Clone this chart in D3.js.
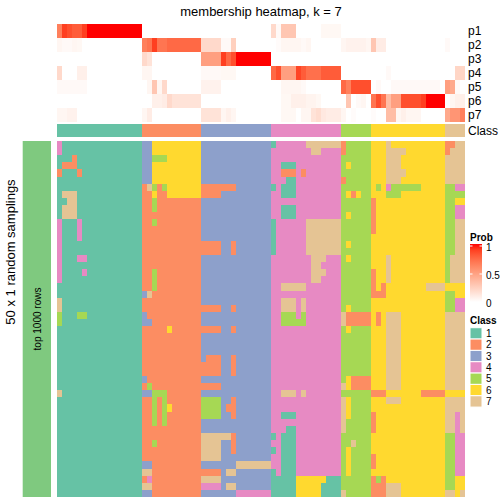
<!DOCTYPE html>
<html><head><meta charset="utf-8">
<script src="https://cdn.jsdelivr.net/npm/d3@7"></script>
<style>
html,body{margin:0;padding:0;background:#fff;}
text{font-family:"Liberation Sans",Arial,Helvetica,sans-serif;}
</style></head>
<body><div id="chart"></div>
<script>
// ---------------- DATA ----------------
const title = "membership heatmap, k = 7";
const classLabels = ["1","2","3","4","5","6","7"];
const classColors = ["#66C2A5","#FC8D62","#8DA0CB","#E78AC3","#A6D854","#FFD92F","#E5C494"];
// class of each of the 82 columns (consensus class annotation)
const columnClass = ("11111111111111111" + "222222222222" + "33333333333333" +
  "44444444444444" + "555555" + "666666666666666" + "7777").split("").map(Number);
const probNames = ["p1","p2","p3","p4","p5","p6","p7"];
const p1 = [0.65,0.9,0.85,0.8,0.8,0.9,1,1,1,1,1,1,1,1,1,1,1,
  0,0,0,0,0,0,0,0,0,0,0,0,
  0,0,0,0,0,0,0,0,0,0,0,0,0,0,
  0.2,0.03,0.3,0.3,0.3,0,0,0,0,0,0.04,0.04,0.04,0.04,
  0,0,0,0,0,0,
  0,0,0,0,0,0,0,0,0,0,0,0,0,0,0,
  0,0,0,0];
const p2 = [0.05,0.03,0.03,0.05,0.04,0,0,0,0,0,0,0,0,0,0,0,0,
  0.65,0.7,0.9,0.7,0.7,0.75,0.75,0.75,0.75,0.75,0.75,0.75,
  0.2,0.2,0.2,0.2,0.03,0.03,0.25,0,0,0,0,0,0,0,
  0,0.02,0.05,0.05,0.05,0.05,0.03,0.05,0,0,0,0,0,0,
  0.05,0.07,0.07,0.07,0.07,0.05,
  0.3,0.1,0.1,0,0,0,0,0,0,0,0,0,0,0,0,
  0.03,0,0,0];
const p3 = [0,0,0,0,0,0,0,0,0,0,0,0,0,0,0,0,0,
  0.2,0.15,0,0,0,0,0,0,0,0,0,0,
  0.5,0.5,0.5,0.5,0.9,0.75,0.85,1,1,1,1,1,1,1,
  0,0,0,0,0,0,0,0,0,0,0,0,0,0,
  0,0,0,0,0,0,
  0,0,0,0,0,0,0,0,0,0,0,0,0,0,0,
  0,0,0,0];
const p4 = [0.2,0,0,0,0.08,0.08,0,0,0,0,0,0,0,0,0,0,0,
  0.05,0.05,0,0,0,0,0,0,0,0,0,0,
  0.03,0.03,0.03,0.03,0.04,0.04,0.04,0,0,0,0,0,0,0,
  0.75,0.85,0.5,0.5,0.5,0.88,0.8,0.72,0.72,0.72,0.8,0.8,0.8,0.8,
  0,0,0,0,0,0,
  0,0,0,0.03,0,0,0,0,0,0,0,0,0,0,0,
  0,0,0.22,0.22];
const p5 = [0.03,0.03,0.03,0.03,0.03,0.03,0,0,0,0,0,0,0,0,0,0,0,
  0,0.05,0.3,0.05,0.2,0,0,0,0,0,0,0,
  0.07,0.07,0.07,0.07,0,0,0,0,0,0,0,0,0,0,
  0,0,0.05,0.05,0.05,0.05,0.03,0,0,0,0,0,0,0,
  0.75,0.65,0.85,0.85,0.85,0.85,
  0,0.03,0,0,0.03,0.03,0.03,0.03,0.03,0.03,0.03,0.03,0.03,0.03,0,
  0.5,0.45,0.03,0];
const p6 = [0,0,0,0,0,0,0,0,0,0,0,0,0,0,0,0,0,
  0,0,0.08,0.08,0.1,0.2,0.15,0.15,0.15,0.15,0.15,0.15,
  0,0,0,0,0,0,0,0,0,0,0,0,0,0,
  0,0,0.04,0.04,0.08,0.08,0.08,0.06,0.06,0.04,0,0,0,0,
  0,0.3,0,0.03,0.05,0,
  0.7,0.85,0.7,0.35,0.5,0.5,0.85,0.85,0.85,0.85,0.9,1,1,1,1,
  0,0.05,0.08,0.08];
const p7 = [0.05,0.05,0.07,0.07,0,0,0,0,0,0,0,0,0,0,0,0,0,
  0.05,0.1,0,0,0,0,0,0,0,0,0,0,
  0.15,0.15,0.15,0.15,0.05,0.08,0.05,0,0,0,0,0,0,0,
  0,0,0.04,0.04,0.04,0,0.05,0.05,0.15,0.18,0.12,0.1,0.1,0.1,
  0.05,0,0.02,0,0,0,
  0.02,0,0,0.35,0.35,0.05,0.08,0.05,0.05,0.05,0,0,0,0,0,
  0.45,0.55,0.55,0.65];
const probRows = [p1,p2,p3,p4,p5,p6,p7];
// class assigned in each of the 50 random samplings (rows) for each column
const samplingRows = [
"41111111111111111 336666666666 33333333333333 14444447777777 255555 666766666666666 2277",
"41111111111111111 336666666666 33333333333333 44444444774444 255555 666777766666666 2777",
"11121111111111111 335556666666 33333333333333 44444444444444 555555 666777666666666 7777",
"12221111111111111 336666666666 33333333333333 44111444444444 565555 666777666666666 7777",
"21112111111111111 336666666666 33333333333333 44222424444444 555555 666777766666666 7777",
"11111111111111111 336666666666 33333333333333 44411444444444 255555 666777666666666 7777",
"11111111111111111 275256666666 22222223333333 14111444444444 555555 656455555566666 5544",
"17771111111111111 226226666666 22223333333333 44111444444444 562655 666555666666666 5555",
"11771111111111111 225222222222 33333333333333 44444444444444 555555 266666666666666 5566",
"17771111111111111 225222222222 33333333333333 44111444444444 555555 266666666666666 5544",
"17771111111111111 222222222222 33333333333333 44111444444444 565555 266666666666666 5544",
"41114111111111111 225222222222 33333333333333 14444447777777 555555 266666666666666 5577",
"41114111111111111 222222222222 33333333333333 14444447777777 555555 266666666666666 5577",
"41114111111111111 222222222222 33333333333333 14444447777777 555555 666666666666666 5577",
"41111111111111111 222222222222 22223323333333 14444447777777 565555 666666666666666 5577",
"41111111111111111 222222222222 22223323333333 14444447777777 555555 666666666666666 5577",
"41114411111111111 222222222222 33333333333333 44444444777444 565555 666766666666666 5777",
"41111111111111111 222222222222 33333333333333 44444444774444 555555 666766666666666 5777",
"41111411111111111 225222222222 33333333333333 44444444777444 555555 266766666666666 5777",
"41111111111111111 225222222222 33333333333333 44444444774444 555555 266766666666666 5777",
"11111111111111111 225222222222 33333333333333 44777774444444 555555 262666666667777 6666",
"11111111111111111 372222222222 33333333333333 44444444444444 555555 222666666666666 5566",
"71111111111111111 222222222222 33333333333333 44777474444444 555555 666666666666666 5544",
"71111111111111111 222222222222 22223323333333 44777474444444 565555 666666666666666 5544",
"51115511111111111 322222222222 33333333333333 44555454444444 722222 626777666666666 7777",
"51111111111111111 332222222222 33333333333333 44555554444444 722222 626777666666666 7777",
"11111111111111111 222226222222 22223323333333 44444444444444 565555 666777666666666 7777",
"11111111111111111 222222222222 33333333333333 44444444444444 555555 666777666666666 7777",
"11111111111111111 222222222222 33333333333333 44444444444444 555555 666777666666666 7777",
"11111111111111111 222222222222 33333333333333 44444444444444 555555 666777666666666 7777",
"11111111111111111 222222222222 32223323333333 44444444444444 555555 666777666666666 7777",
"11111111111111111 222222222222 22223323333333 44444444444444 555555 666777666666666 7777",
"11111111111111111 222222222222 22223323333333 44444444444444 555555 666777666666666 7777",
"11111111111111111 322222222222 33333333333333 44444444444444 562222 666777666666666 7777",
"11111111111111111 252222222222 22223333333333 44444444444444 762222 666777666666666 7777",
"71111111111111111 335552222222 33333333333333 44777474444444 555555 222666666622222 6666",
"11111111111111111 225252222222 55553323333333 44444444444444 765555 666777666666666 7777",
"11111111111111111 225256222222 55553223333333 44444444444444 765555 666666666666666 7777",
"11111111111111111 225252222222 55553323333333 44111444444444 765555 266666666666666 7747",
"11111111111111111 225252222222 33333333333333 44444444444444 755555 266666666666666 7747",
"11111111111111111 222222222222 33333333333333 44411444444444 755555 266666666666666 7747",
"11111111111111111 222222222222 77777723333333 14111444444444 555555 666666666666666 5544",
"11111111111111111 225222222222 77773323333333 44111444444444 557555 666666666666666 5544",
"11111111111111111 222222222222 77773323333333 14111444444444 565555 666666666666666 5544",
"11111111111111111 222222222222 77773333333333 44111444444444 565555 266666666666666 5544",
"11111111111111111 332222222222 33333337777777 44111444444444 565555 266666666666666 5544",
"11111111111111111 772222222222 22223773333333 14111444444444 565555 666666666666666 5544",
"11111111111111111 242222222222 77773333333333 11111666666111 555555 252666666666666 5566",
"11111111111111111 772222222222 44443773333333 11111666661111 555555 222777666666666 5566",
"11111111111111111 332222222222 33333334444444 11111666661111 755555 222777666666666 7767"
];
const probTicks = [0, 0.5, 1];

// ---------------- DRAW ----------------
const W = 504, H = 504;
const svg = d3.select("#chart").append("svg").attr("width", W).attr("height", H);
svg.append("rect").attr("width", W).attr("height", H).attr("fill", "#fff");

const nCol = columnClass.length;
const matrix = samplingRows.map(s => s.replace(/ /g, "").split("").map(Number));
const nRow = matrix.length;

const x = d3.scaleBand().domain(d3.range(nCol)).range([57, 465.4]);
const yMain = d3.scaleBand().domain(d3.range(nRow)).range([141, 497]);
const yTop = d3.scaleBand().domain(probNames).range([24, 122]);
const classColor = d3.scaleOrdinal().domain([1,2,3,4,5,6,7]).range(classColors);
const probColor = d3.scaleLinear().domain([0, 1]).range(["#ffffff", "#ff0000"]).interpolate(d3.interpolateLab);

// widths that overlap the next cell so no seams appear
const cw = j => (j < nCol - 1 ? x.bandwidth() + 1 : x.bandwidth());
const rh = r => (r < nRow - 1 ? yMain.bandwidth() + 1 : yMain.bandwidth());

// title
svg.append("text").attr("x", 261).attr("y", 16).attr("text-anchor", "middle")
  .attr("font-size", 13).text(title);

// probability annotation rows
probRows.forEach((row, i) => {
  svg.append("g").attr("shape-rendering", "crispEdges").selectAll("rect").data(row).join("rect")
    .attr("x", (d, j) => x(j)).attr("y", yTop(probNames[i]))
    .attr("width", (d, j) => cw(j)).attr("height", yTop.bandwidth() + (i < 6 ? 1 : 0))
    .attr("fill", d => probColor(d));
  svg.append("text").attr("x", 468).attr("y", yTop(probNames[i]) + yTop.bandwidth() / 2)
    .attr("dy", "0.35em").attr("font-size", 12).text(probNames[i]);
});

// class annotation row
svg.append("g").attr("shape-rendering", "crispEdges").selectAll("rect").data(columnClass).join("rect")
  .attr("x", (d, j) => x(j)).attr("y", 124)
  .attr("width", (d, j) => cw(j)).attr("height", 13.3)
  .attr("fill", d => classColor(d));
svg.append("text").attr("x", 468).attr("y", 130.7).attr("dy", "0.35em")
  .attr("font-size", 12).text("Class");

// main heatmap
const cells = [];
matrix.forEach((row, r) => row.forEach((v, c) => cells.push({r, c, v})));
svg.append("g").attr("shape-rendering", "crispEdges").selectAll("rect").data(cells).join("rect")
  .attr("x", d => x(d.c)).attr("y", d => yMain(d.r))
  .attr("width", d => cw(d.c)).attr("height", d => rh(d.r))
  .attr("fill", d => classColor(d.v));

// left row-group bar
svg.append("rect").attr("x", 22.7).attr("y", 141).attr("width", 28.3).attr("height", 356)
  .attr("fill", "#7FC97F");
svg.append("text").attr("transform", "translate(41,319) rotate(-90)")
  .attr("text-anchor", "middle").attr("font-size", 10).text("top 1000 rows");
svg.append("text").attr("transform", "translate(15,252) rotate(-90)")
  .attr("text-anchor", "middle").attr("font-size", 13).text("50 x 1 random samplings");

// Prob legend
const lx = 470;
svg.append("text").attr("x", lx).attr("y", 241).attr("font-size", 10)
  .attr("font-weight", "bold").text("Prob");
const grad = svg.append("defs").append("linearGradient").attr("id", "pg")
  .attr("x1", 0).attr("y1", 1).attr("x2", 0).attr("y2", 0);
d3.range(0, 1.0001, 0.1).forEach(t => grad.append("stop")
  .attr("offset", t).attr("stop-color", probColor(t)));
const yLeg = d3.scaleLinear().domain([0, 1]).range([302, 246]);
svg.append("rect").attr("x", lx).attr("y", 244).attr("width", 12).attr("height", 58)
  .attr("fill", "url(#pg)");
probTicks.forEach(t => {
  if (t > 0) {
    svg.append("line").attr("x1", lx).attr("x2", lx + 2.5).attr("y1", yLeg(t)).attr("y2", yLeg(t))
      .attr("stroke", "#fff").attr("stroke-width", 1);
    svg.append("line").attr("x1", lx + 9.5).attr("x2", lx + 12).attr("y1", yLeg(t)).attr("y2", yLeg(t))
      .attr("stroke", "#fff").attr("stroke-width", 1);
  }
  svg.append("text").attr("x", lx + 16).attr("y", yLeg(t) + 1).attr("dy", "0.35em")
    .attr("font-size", 10).text(t);
});

// Class legend
svg.append("text").attr("x", lx).attr("y", 324).attr("font-size", 10)
  .attr("font-weight", "bold").text("Class");
const yCls = d3.scaleBand().domain(classLabels).range([327.7, 327.7 + 11.34 * 7]);
classLabels.forEach((c, i) => {
  svg.append("rect").attr("x", lx).attr("y", yCls(c)).attr("width", 12).attr("height", yCls.bandwidth())
    .attr("fill", classColors[i]).attr("stroke", "#fff").attr("stroke-width", 1);
  svg.append("text").attr("x", lx + 16).attr("y", yCls(c) + yCls.bandwidth() / 2).attr("dy", "0.35em")
    .attr("font-size", 10).text(c);
});
</script></body></html>
